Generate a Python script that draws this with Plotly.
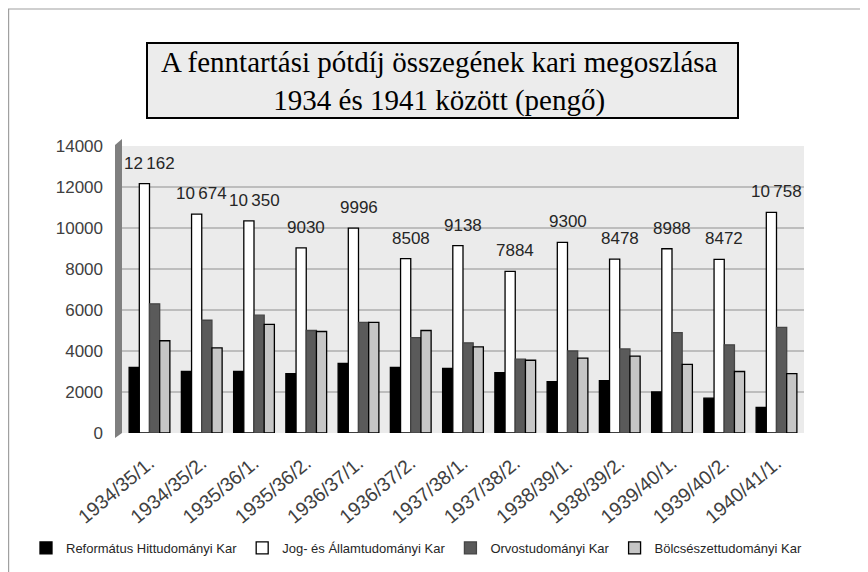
import plotly.graph_objects as go

categories = ["1934/35/1.", "1934/35/2.", "1935/36/1.", "1935/36/2.", "1936/37/1.",
              "1936/37/2.", "1937/38/1.", "1937/38/2.", "1938/39/1.", "1938/39/2.",
              "1939/40/1.", "1939/40/2.", "1940/41/1."]
reformatus = [3200, 3000, 3000, 2900, 3400, 3200, 3150, 2950, 2500, 2550, 2000, 1700, 1250]
jog = [12162, 10674, 10350, 9030, 9996, 8508, 9138, 7884, 9300, 8478, 8988, 8472, 10758]
orvos = [6300, 5500, 5750, 5000, 5400, 4650, 4400, 3600, 4000, 4100, 4900, 4300, 5150]
bolcs = [4500, 4150, 5300, 4950, 5400, 5000, 4200, 3550, 3650, 3750, 3350, 3000, 2900]
series_names = ["Református Hittudományi Kar", "Jog- és Államtudományi Kar",
                "Orvostudományi Kar", "Bölcsészettudományi Kar"]
title_lines = ["A fenntartási pótdíj összegének kari megoszlása",
               "1934 és 1941 között (pengő)"]


def fmt(v):
    return f"{v:,}".replace(",", "\u2009") if v >= 10000 else str(v)


# page body has an 8px margin: the figure is drawn 8px right/down of the window corner
OFF = 8
W, H = 868 - OFF, 572 - OFF
# plot-area edges in window pixels
PL, PR, PT, PB = 122, 804, 146, 433
L, R, T, B = PL - OFF, 868 - PR, PT - OFF, 572 - PB
pw, ph = PR - PL, PB - PT


def px(x):
    return (x - PL) / pw


def py(y):
    return (PB - y) / ph


SANS = "Liberation Sans, Arial, sans-serif"
fig = go.Figure()
colors = ["#000000", "#ffffff", "#5a5a5a", "#c6c6c6"]
lines = ["#000000", "#000000", "#454545", "#000000"]
for name, vals, c, lc in zip(series_names, [reformatus, jog, orvos, bolcs], colors, lines):
    fig.add_trace(go.Bar(x=categories, y=vals, name=name,
                         marker=dict(color=c, line=dict(color=lc, width=1.3))))

for cat, v in zip(categories, jog):
    fig.add_annotation(x=cat, y=v, text=fmt(v), showarrow=False, yanchor="bottom",
                       yshift=9, font=dict(family=SANS, size=17, color="#262626"))

shapes = [
    # outer border (only top & left visible)
    dict(type="rect", xref="paper", yref="paper", x0=px(8.6), x1=px(880), y0=py(9), y1=py(590),
         line=dict(color="#a0a0a0", width=1.2), fillcolor="rgba(0,0,0,0)", layer="below"),
    # 3D side wall
    dict(type="path", xref="paper", yref="paper",
         path=f"M {px(115)},{py(438)} L {px(122)},{py(433)} L {px(122)},{py(139)} L {px(115)},{py(145)} Z",
         line=dict(width=0), fillcolor="#7f7f7f", layer="below"),
    # title box
    dict(type="rect", xref="paper", yref="paper", x0=px(147), x1=px(738), y0=py(118), y1=py(43),
         line=dict(color="#000000", width=2), fillcolor="#ececec"),
]
fig.add_annotation(xref="paper", yref="paper", x=px(439), y=py(81), showarrow=False,
                   text="<br>".join(title_lines), yanchor="middle", xanchor="center",
                   font=dict(family="Liberation Serif, Times New Roman, serif", size=29, color="#000000"))

fig.update_layout(
    width=W, height=H, autosize=False,
    margin=dict(l=L, r=R, t=T, b=B, autoexpand=False),
    paper_bgcolor="#ffffff", plot_bgcolor="#ebebeb",
    barmode="group", bargap=0.22, bargroupgap=0,
    shapes=shapes,
    showlegend=True,
    legend=dict(orientation="h", xref="paper", yref="paper", x=px(26), y=py(548),
                xanchor="left", yanchor="middle", font=dict(family=SANS, size=13, color="#262626"),
                itemwidth=30, tracegroupgap=0, bgcolor="rgba(0,0,0,0)"),
    xaxis=dict(tickangle=-40, tickfont=dict(family=SANS, size=19.5, color="#404040"),
               showline=False, ticks="", showgrid=False, automargin=False,
               ticklabelshift=0, ticklabelstandoff=14),
    yaxis=dict(range=[0, 14000], dtick=2000, tickformat="d",
               tickfont=dict(family=SANS, size=17, color="#404040"),
               gridcolor="#bdbdbd", gridwidth=1.5, zeroline=False, showline=False,
               ticks="", ticklabelstandoff=18, automargin=False),
)

fig.write_html("out.html")
